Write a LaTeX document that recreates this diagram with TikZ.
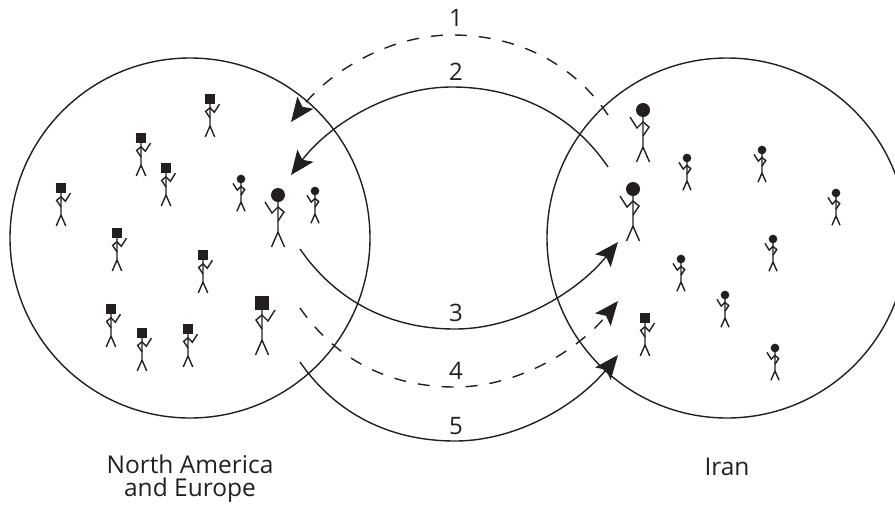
\documentclass[tikz,border=0pt]{standalone}
\usepackage{fontspec}
\setmainfont{Open Sans}
\usetikzlibrary{arrows.meta}
\definecolor{ink}{HTML}{231F20}
\tikzset{
  x=1pt,y=-1pt,
  region/.style={draw=ink,circle,line width=1.4pt,minimum size=360pt,inner sep=0pt,outer sep=0pt},
  flow/.style={draw=ink,line width=1.4pt,-{Stealth[length=24pt,width=20pt,inset=5pt,fill=ink]}},
  flowdash/.style={flow,dash pattern=on 12pt off 12pt},
  lbl/.style={text=ink,font=\fontsize{24}{24}\selectfont,inner sep=0pt},
  place/.style={text=ink,font=\fontsize{24.5}{23}\selectfont,align=center,inner sep=0pt},
  limb/.style={draw=ink,line width=1.4pt,line join=miter},
  pics/roundfig/.style={code={
    \fill[ink] (0,0) circle[radius=7];
    \draw[limb] (0,0) -- (0,37) -- (-6.5,52) (0,37) -- (6.5,52);
    \draw[limb] (-13,7) -- (-6,18) -- (0,12) -- (6,17) -- (0,26);
  }},
  pics/squarefig/.style={code={
    \fill[ink] (-7,-7) rectangle (7,7);
    \draw[limb] (0,0) -- (0,37) -- (-6.5,52) (0,37) -- (6.5,52);
    \draw[limb] (13,7) -- (6,18) -- (0,12) -- (-6,17) -- (0,26);
  }}
}
\begin{document}
\begin{tikzpicture}
\useasboundingbox (0,0) rectangle (895,504);
\clip (0,0) rectangle (895,504);
\node[region] (na) at (190,238) {};
\node[region] (ir) at (727,238) {};
% figures
\foreach \px/\py in {278/195,643/110,633/189} \pic at (\px,\py) {roundfig};
\foreach \px/\py in {241/179,315/191,687/158,762/150,836/193,773/239,681/259,725/295,775/348}
  \pic[scale=.62] at (\px,\py) {roundfig};
\pic at (262,303) {squarefig};
\foreach \px/\py in {210/99,141/138,166/168,61/188,117/233,203/255,111/309,142/333,188/329,645/318}
  \pic[scale=.73] at (\px,\py) {squarefig};
% connector ends
\coordinate (s1) at (608,115); \coordinate (m1) at (452,35);  \coordinate (t1) at (291,122);
\coordinate (s2) at (608,167); \coordinate (m2) at (452,87);  \coordinate (t2) at (291,175);
\coordinate (s3) at (300,249); \coordinate (m3) at (455,329); \coordinate (t3) at (618,242);
\coordinate (s4) at (300,308); \coordinate (m4) at (455,387); \coordinate (t4) at (618,301);
\coordinate (s5) at (300,362); \coordinate (m5) at (455,441); \coordinate (t5) at (618,355);
\draw[flowdash] (s1) .. controls +(-35,-52) and +(65,0) .. (m1) .. controls +(-65,0) and +(36,-48) .. (t1);
\draw[flow] (s2) .. controls +(-35,-52) and +(65,0) .. (m2) .. controls +(-65,0) and +(36,-48) .. (t2);
\draw[flow] (s3) .. controls +(36,52) and +(-65,0) .. (m3) .. controls +(65,0) and +(-38,47) .. (t3);
\draw[flowdash] (s4) .. controls +(36,52) and +(-65,0) .. (m4) .. controls +(65,0) and +(-38,47) .. (t4);
\draw[flow] (s5) .. controls +(36,52) and +(-65,0) .. (m5) .. controls +(65,0) and +(-38,47) .. (t5);
% labels
\node[lbl] (l1) at (456,18) {1};
\node[lbl] (l2) at (456,72) {2};
\node[lbl] (l3) at (456,313) {3};
\node[lbl] (l4) at (456,371) {4};
\node[lbl] (l5) at (456,426) {5};
\node[place] (p1) at (190,479) {North America\\and Europe};
\node[place] (p2) at (727,467) {Iran};
\end{tikzpicture}
\end{document}
